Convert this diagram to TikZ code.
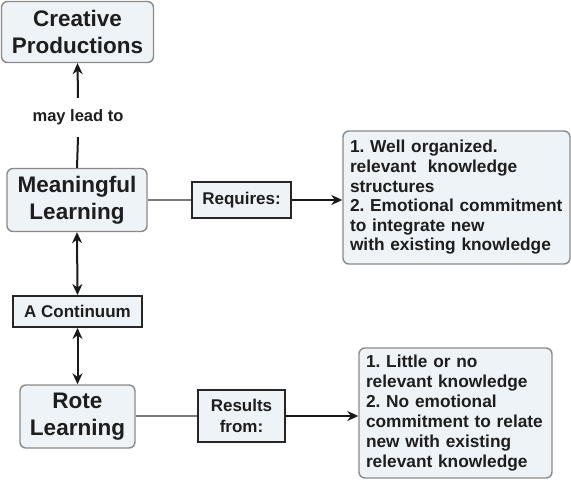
\documentclass[tikz,border=0pt]{standalone}
\usepackage{fontspec}
\setmainfont{Liberation Sans}
\usetikzlibrary{arrows.meta}
\definecolor{boxfill}{HTML}{EEF3F7}
\definecolor{roundborder}{HTML}{8A8A8A}
\definecolor{txt}{HTML}{1E1E1E}
\definecolor{grayline}{HTML}{7A7A7A}
\tikzset{
  roundbox/.style={draw=roundborder, line width=1.4pt, fill=boxfill, rounded corners=6pt,
    text=txt, font=\bfseries\fontsize{22.5}{27}\selectfont, align=center, inner sep=0pt},
  squarebox/.style={draw=black!85, line width=2pt, fill=boxfill,
    text=txt, font=\bfseries\fontsize{17}{21}\selectfont, align=center, inner sep=0pt},
  listbox/.style={draw=roundborder, line width=1.4pt, fill=boxfill, rounded corners=6pt,
    text=txt, font=\bfseries\fontsize{17.3}{19.6}\selectfont, align=left, inner xsep=7pt, inner ysep=0pt},
  lbl/.style={text=txt, font=\bfseries\fontsize{16.5}{19}\selectfont, inner sep=0pt, minimum height=39pt},
  arr/.style={line width=2pt, draw=black!90, -{Stealth[length=11pt,width=10pt]}},
  darr/.style={line width=2pt, draw=black!90, {Stealth[length=11pt,width=10pt]}-{Stealth[length=11pt,width=10pt]}},
  plain/.style={line width=2.2pt, draw=grayline},
}
\begin{document}
\frenchspacing
\begin{tikzpicture}[x=1pt,y=-1pt]
\useasboundingbox (0,0) rectangle (571,480);
\node[roundbox, minimum width=152pt, minimum height=61pt] (cp) at (77.5,32) {Creative\\Productions};
\node[lbl] (lead) at (78,117.5) {may lead to};
\node[roundbox, minimum width=140pt, minimum height=63pt] (ml) at (77,200) {Meaningful\\Learning};
\node[squarebox, minimum width=99pt, minimum height=36pt] (req) at (241.5,200) {Requires:};
\node[listbox, text width=213pt, minimum height=133pt] (k1) at (456.5,197.5)
  {1. Well organized.\\relevant\ \ knowledge\\structures\\2. Emotional commitment\\to integrate new\\with existing knowledge};
\node[squarebox, minimum width=129pt, minimum height=31pt] (ac) at (77.5,311.5) {A Continuum};
\node[roundbox, minimum width=115pt, minimum height=63pt] (rl) at (77.5,416.5) {Rote\\Learning};
\node[squarebox, minimum width=87pt, minimum height=52pt] (rf) at (241.5,416) {Results\\from:};
\node[listbox, text width=179pt, minimum height=130pt, font=\bfseries\fontsize{17.3}{20}\selectfont] (k2) at (455.5,413)
  {1. Little or no\\relevant knowledge\\2. No emotional\\commitment to relate\\new with existing\\relevant knowledge};
\draw[arr] (lead.north) -- (cp.south);
\draw[line width=2pt, draw=black!90] (ml.north) -- (lead.south);
\draw[plain] (ml.east) -- (req.west);
\draw[arr] (req.east) -- (k1.west |- req.east);
\draw[darr] (ml.south) -- (ac.north);
\draw[darr] (ac.south) -- (rl.north);
\draw[plain] (rl.east |- rf.west) -- (rf.west);
\draw[arr] (rf.east) -- (k2.west |- rf.east);
\end{tikzpicture}
\end{document}
